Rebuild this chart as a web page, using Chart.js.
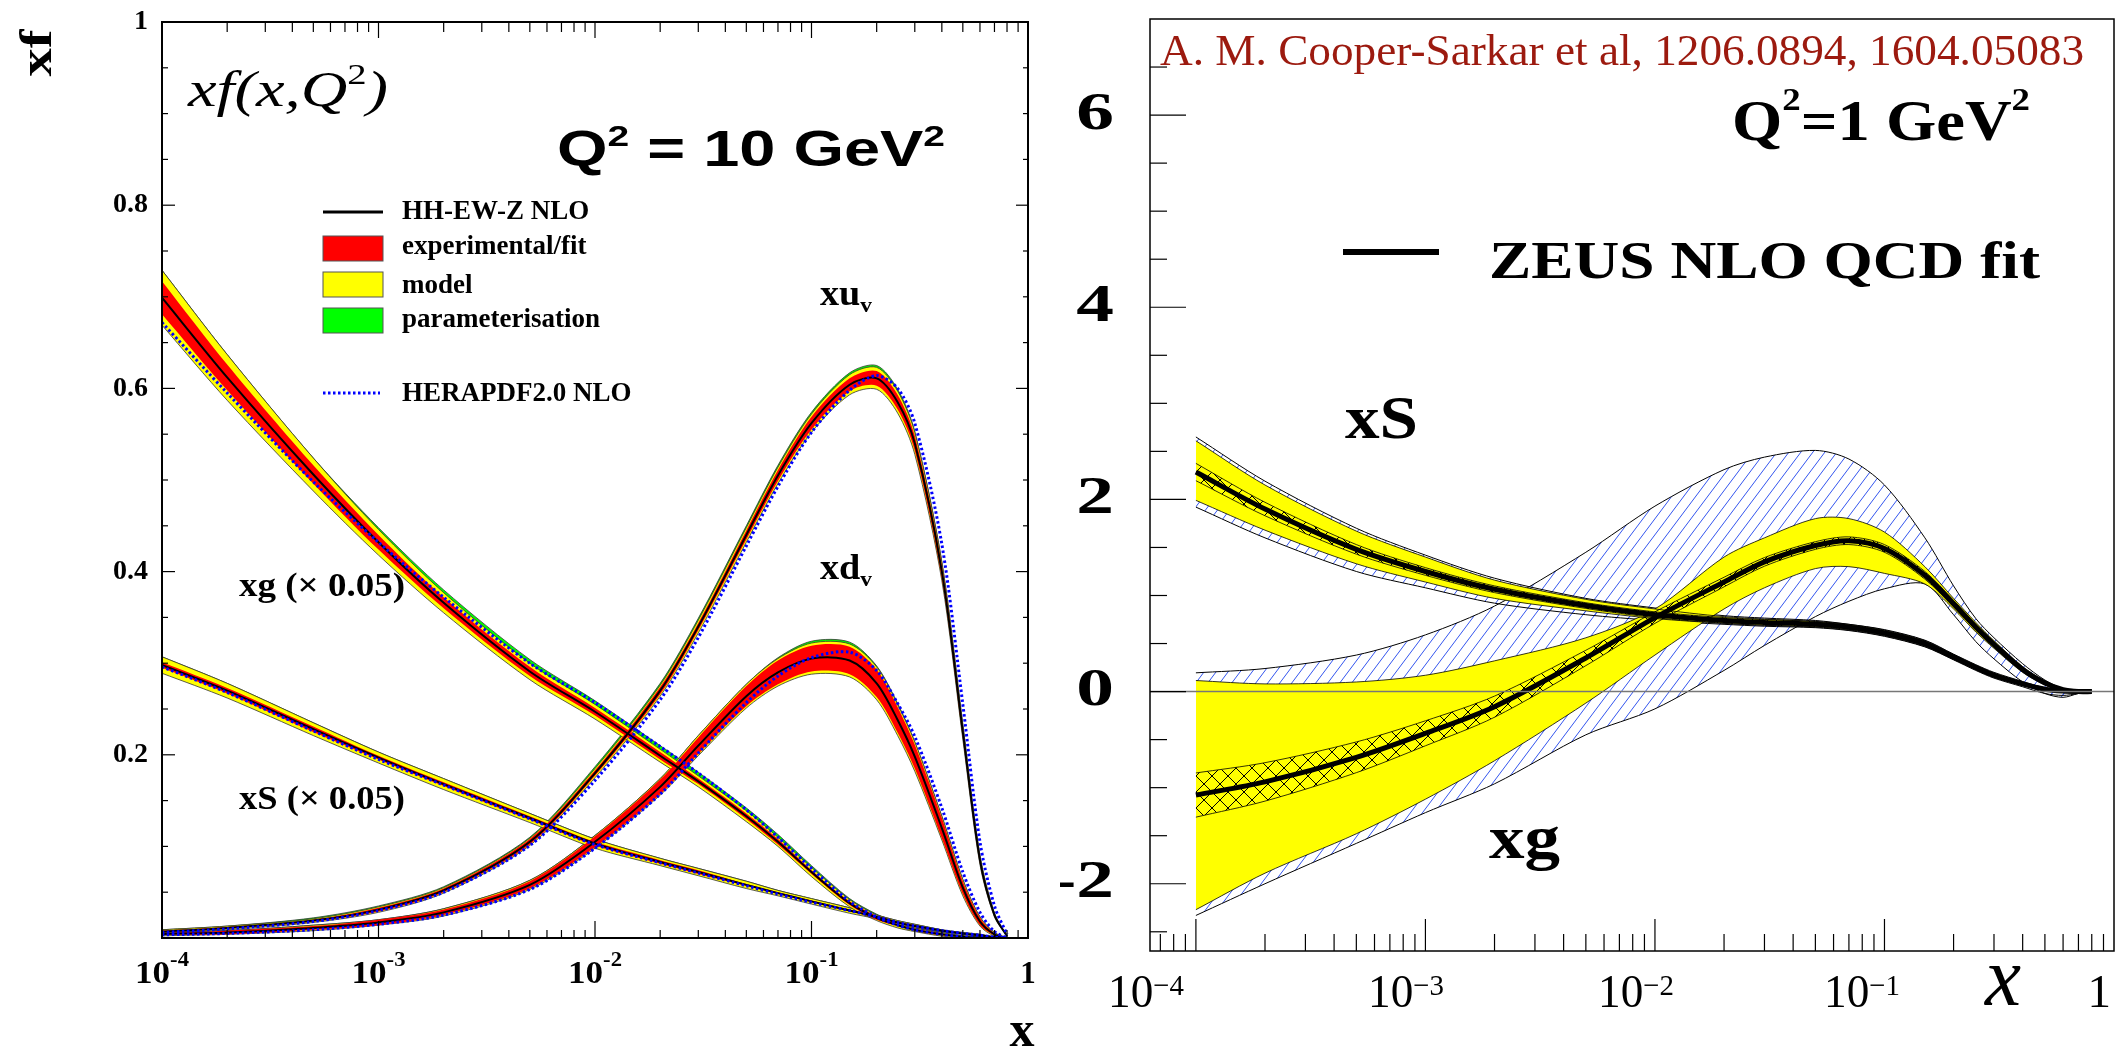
<!DOCTYPE html>
<html>
<head>
<meta charset="utf-8">
<script src="https://cdn.jsdelivr.net/npm/chart.js@4.4.1/dist/chart.umd.min.js"></script>
<style>
  body { margin: 0; background: #fff; width: 2116px; height: 1051px; overflow: hidden; position: relative; }
  canvas { position: absolute; top: 0; }
  #left { left: 0; }
  #right { left: 1060px; }
</style>
</head>
<body>
<canvas id="left" width="1060" height="1051"></canvas>
<canvas id="right" width="1056" height="1051"></canvas>
<script>
// x values shared by both panels
const xGrid = [1e-4, 2e-4, 5e-4, 1e-3, 2e-3, 5e-3, 0.01, 0.02, 0.03, 0.05, 0.07, 0.1, 0.15, 0.2, 0.25, 0.3, 0.4, 0.5, 0.6, 0.7, 0.8];

// ---- left panel: Q2 = 10 GeV2, HH-EW-Z NLO ----
const xuv    = [0.007, 0.011, 0.019, 0.031, 0.052, 0.105, 0.18, 0.27, 0.34, 0.44, 0.505, 0.562, 0.604, 0.611, 0.585, 0.54, 0.40, 0.225, 0.085, 0.025, 0.002];
const xuvExp = [0.001, 0.001, 0.001, 0.002, 0.002, 0.003, 0.003, 0.004, 0.004, 0.005, 0.006, 0.007, 0.007, 0.008, 0.008, 0.008, 0.007, 0.005, 0.003, 0.001, 0];
const xuvMod = [0.002, 0.002, 0.002, 0.003, 0.003, 0.004, 0.005, 0.006, 0.007, 0.008, 0.009, 0.010, 0.011, 0.012, 0.012, 0.012, 0.010, 0.008, 0.005, 0.002, 0];
const xuvPar = [0.002, 0.002, 0.003, 0.004, 0.004, 0.005, 0.007, 0.008, 0.009, 0.010, 0.011, 0.012, 0.013, 0.014, 0.014, 0.013, 0.011, 0.008, 0.005, 0.002, 0];
const xuvHera = [0.006, 0.010, 0.018, 0.030, 0.050, 0.101, 0.172, 0.26, 0.328, 0.428, 0.493, 0.552, 0.598, 0.614, 0.600, 0.562, 0.43, 0.255, 0.105, 0.035, 0.004];

const xdv    = [0.0044, 0.006, 0.011, 0.017, 0.028, 0.058, 0.105, 0.165, 0.210, 0.264, 0.290, 0.305, 0.303, 0.278, 0.238, 0.198, 0.12, 0.055, 0.018, 0.004, 0];
const xdvExp = [0.001, 0.002, 0.002, 0.003, 0.003, 0.004, 0.006, 0.008, 0.009, 0.011, 0.013, 0.014, 0.015, 0.015, 0.014, 0.013, 0.011, 0.007, 0.004, 0.001, 0];
const xdvMod = [0.002, 0.002, 0.003, 0.003, 0.004, 0.005, 0.007, 0.009, 0.011, 0.013, 0.015, 0.017, 0.018, 0.018, 0.017, 0.016, 0.013, 0.009, 0.005, 0.002, 0];
const xdvPar = [0.002, 0.002, 0.003, 0.003, 0.004, 0.005, 0.007, 0.009, 0.011, 0.013, 0.016, 0.019, 0.020, 0.019, 0.018, 0.016, 0.013, 0.009, 0.005, 0.002, 0];
const xdvHera = [0.0035, 0.005, 0.009, 0.015, 0.025, 0.053, 0.098, 0.157, 0.202, 0.257, 0.286, 0.306, 0.312, 0.292, 0.256, 0.220, 0.142, 0.072, 0.028, 0.007, 0];

// gluon and sea, scaled by 0.05
const xg    = [0.699, 0.612, 0.506, 0.432, 0.366, 0.291, 0.247, 0.199, 0.171, 0.133, 0.105, 0.072, 0.038, 0.022, 0.014, 0.009, 0.004, 0.0015, 0.0005, 0, 0];
const xgExp = [0.018, 0.014, 0.010, 0.008, 0.006, 0.005, 0.004, 0.004, 0.003, 0.003, 0.003, 0.002, 0.002, 0.002, 0.001, 0.001, 0.001, 0, 0, 0, 0];
const xgMod = [0.030, 0.025, 0.018, 0.014, 0.011, 0.009, 0.008, 0.007, 0.006, 0.006, 0.005, 0.005, 0.004, 0.003, 0.003, 0.002, 0.002, 0.001, 0.001, 0, 0];
const xgPar = [0.030, 0.025, 0.018, 0.016, 0.014, 0.013, 0.012, 0.011, 0.010, 0.009, 0.008, 0.007, 0.005, 0.004, 0.003, 0.002, 0.002, 0.001, 0.001, 0, 0];
const xgHera = [0.672, 0.595, 0.498, 0.432, 0.372, 0.300, 0.257, 0.209, 0.180, 0.140, 0.110, 0.076, 0.040, 0.023, 0.014, 0.009, 0.004, 0.001, 0, 0, 0];

const xs    = [0.298, 0.270, 0.228, 0.197, 0.168, 0.131, 0.103, 0.083, 0.072, 0.058, 0.049, 0.040, 0.030, 0.023, 0.017, 0.013, 0.008, 0.005, 0.003, 0.001, 0];
const xsExp = [0.003, 0.003, 0.003, 0.002, 0.002, 0.002, 0.002, 0.002, 0.002, 0.001, 0.001, 0.001, 0.001, 0.001, 0.001, 0.001, 0, 0, 0, 0, 0];
const xsMod = [0.009, 0.008, 0.007, 0.006, 0.006, 0.005, 0.005, 0.004, 0.004, 0.004, 0.003, 0.003, 0.003, 0.002, 0.002, 0.002, 0.001, 0.001, 0.001, 0, 0];
const xsHera = [0.296, 0.268, 0.226, 0.195, 0.167, 0.130, 0.102, 0.082, 0.071, 0.057, 0.048, 0.039, 0.030, 0.023, 0.017, 0.013, 0.008, 0.005, 0.003, 0.001, 0];

const leftYTicks = [0.2, 0.4, 0.6, 0.8, 1];
const leftYLabels = ['0.2', '0.4', '0.6', '0.8', '1'];
const leftXTicks = [1e-4, 1e-3, 1e-2, 1e-1, 1];
const leftXExp = ['-4', '-3', '-2', '-1', ''];
const legendLabels = ['HH-EW-Z NLO', 'experimental/fit', 'model', 'parameterisation', 'HERAPDF2.0 NLO'];

// ---- right panel: Q2 = 1 GeV2, ZEUS NLO QCD fit ----
const sZeus    = [2.285, 1.90, 1.48, 1.25, 1.065, 0.895, 0.80, 0.74, 0.72, 0.70, 0.67, 0.61, 0.50, 0.36, 0.25, 0.17, 0.08, 0.025, 0.005, 0, 0];
const sExp     = [0.09, 0.07, 0.05, 0.04, 0.035, 0.03, 0.03, 0.03, 0.03, 0.03, 0.03, 0.03, 0.03, 0.025, 0.02, 0.02, 0.015, 0.01, 0.005, 0, 0];
const sModHi   = [2.61, 2.15, 1.67, 1.40, 1.16, 0.96, 0.86, 0.78, 0.755, 0.73, 0.695, 0.635, 0.525, 0.38, 0.27, 0.19, 0.095, 0.035, 0.01, 0, 0];
const sModLo   = [1.99, 1.68, 1.33, 1.14, 0.97, 0.84, 0.76, 0.71, 0.69, 0.675, 0.645, 0.585, 0.475, 0.34, 0.23, 0.15, 0.065, 0.015, 0, 0, 0];
const sHatchHi = [2.65, 2.19, 1.70, 1.42, 1.18, 0.97, 0.87, 0.79, 0.765, 0.74, 0.70, 0.645, 0.535, 0.39, 0.28, 0.20, 0.105, 0.04, 0.015, 0.005, 0];
const sHatchLo = [1.92, 1.60, 1.25, 1.08, 0.92, 0.80, 0.74, 0.70, 0.68, 0.665, 0.635, 0.575, 0.465, 0.33, 0.22, 0.14, 0.05, -0.02, -0.04, -0.02, 0];

const gZeus    = [-1.077, -0.94, -0.684, -0.434, -0.157, 0.35, 0.77, 1.14, 1.35, 1.52, 1.57, 1.49, 1.21, 0.915, 0.67, 0.49, 0.23, 0.09, 0.02, 0, 0];
const gExp     = [0.23, 0.20, 0.16, 0.13, 0.11, 0.08, 0.06, 0.05, 0.045, 0.04, 0.04, 0.04, 0.04, 0.035, 0.03, 0.03, 0.02, 0.01, 0.005, 0, 0];
const gModHi   = [0.115, 0.08, 0.10, 0.17, 0.32, 0.56, 0.86, 1.40, 1.60, 1.80, 1.80, 1.66, 1.30, 0.97, 0.72, 0.53, 0.26, 0.11, 0.03, 0.005, 0];
const gModLo   = [-2.27, -1.89, -1.48, -1.12, -0.72, -0.12, 0.38, 0.86, 1.08, 1.28, 1.30, 1.23, 1.12, 0.86, 0.62, 0.45, 0.20, 0.07, 0.01, 0, 0];
const gHatchHi = [0.195, 0.24, 0.38, 0.59, 0.89, 1.45, 1.93, 2.31, 2.44, 2.51, 2.42, 2.15, 1.60, 1.10, 0.76, 0.56, 0.29, 0.12, 0.03, 0, 0];
const gHatchLo = [-2.33, -2.0, -1.58, -1.26, -0.96, -0.45, -0.18, 0.22, 0.48, 0.78, 0.94, 1.07, 1.12, 0.80, 0.52, 0.34, 0.10, -0.02, -0.06, -0.02, 0];

const rightYTicks = [6, 4, 2, 0, -2];
const rightXExp = ['\u22124', '\u22123', '\u22122', '\u22121', ''];

// ---------------------------------------------------------------
const SERIF = 'Liberation Serif', SANS = 'Liberation Sans';
const pts = ys => xGrid.map((x, i) => ({ x, y: ys[i] }));
const shift = (ys, d, s) => ys.map((y, i) => y + s * d[i]);

// text made of parts [text, font, dy]; optional squeeze to a width or fixed stretch
function rich(ctx, parts, x, y, o = {}) {
  ctx.save();
  let w = 0;
  parts.forEach(p => { ctx.font = p[1]; w += ctx.measureText(p[0]).width; });
  const sx = o.width ? o.width / w : (o.sx || 1);
  ctx.translate(x, y);
  if (o.rotate) ctx.rotate(o.rotate);
  let x0 = 0;
  if (o.align === 'center') x0 = -w * sx / 2;
  else if (o.align === 'right') x0 = -w * sx;
  ctx.translate(x0, 0);
  ctx.scale(sx, 1);
  ctx.fillStyle = o.color || '#000';
  ctx.textBaseline = o.baseline || 'alphabetic';
  ctx.textAlign = 'left';
  let cx = 0;
  parts.forEach(p => { ctx.font = p[1]; ctx.fillText(p[0], cx, p[2] || 0); cx += ctx.measureText(p[0]).width; });
  ctx.restore();
}

function logTicks(min, max) {
  const out = [];
  for (let n = -6; n <= 0; n++) for (let k = 1; k <= 9; k++) {
    const v = k * Math.pow(10, n);
    if (v >= min * 0.999 && v <= max * 1.001) out.push({ v, major: k === 1 });
  }
  return out;
}

function line(ctx, x1, y1, x2, y2) { ctx.beginPath(); ctx.moveTo(x1, y1); ctx.lineTo(x2, y2); ctx.stroke(); }

// ---------------- left panel ----------------
const leftSets = [];
function addLeft(c, exp, mod, par, hera) {
  const b = leftSets.length;
  leftSets.push({ data: pts(hera), borderColor: '#0000ff', borderWidth: 3, borderDash: [2.5, 2.5], order: 0 });
  leftSets.push({ data: pts(c), borderColor: '#000', borderWidth: 2, order: 1 });
  leftSets.push({ data: pts(shift(c, exp, 1)), borderWidth: 0, backgroundColor: '#ff0000', fill: b + 3, order: 2 });
  leftSets.push({ data: pts(shift(c, exp, -1)), borderWidth: 0, order: 3 });
  leftSets.push({ data: pts(shift(c, mod, 1)), borderColor: '#333', borderWidth: 0.8, backgroundColor: '#ffff00', fill: b + 5, order: 4 });
  leftSets.push({ data: pts(shift(c, mod, -1)), borderColor: '#333', borderWidth: 0.8, order: 3.9 });
  leftSets.push({ data: pts(shift(c, par, 1)), borderColor: '#333', borderWidth: 0.8, backgroundColor: '#00ff00', fill: b + 1, order: 5 });
}
addLeft(xg, xgExp, xgMod, xgPar, xgHera);
addLeft(xs, xsExp, xsMod, xsMod, xsHera);
addLeft(xdv, xdvExp, xdvMod, xdvPar, xdvHera);
addLeft(xuv, xuvExp, xuvMod, xuvPar, xuvHera);

const leftDecor = {
  id: 'leftDecor',
  afterDraw(chart) {
    const { ctx, chartArea: a, scales: { x, y } } = chart;
    ctx.save();
    ctx.strokeStyle = '#000';
    ctx.lineWidth = 1.2;
    // ticks
    logTicks(1e-4, 1).forEach(t => {
      const px = x.getPixelForValue(t.v);
      line(ctx, px, a.bottom, px, a.bottom - (t.major ? 17 : 8));
      line(ctx, px, a.top, px, a.top + (t.major ? 16 : 10));
    });
    for (let i = 1; i < 20; i++) {
      const v = i * 0.05, py = y.getPixelForValue(v), major = i % 4 === 0;
      line(ctx, a.left, py, a.left + (major ? 13 : 6), py);
      line(ctx, a.right, py, a.right - (major ? 12 : 5), py);
    }
    ctx.lineWidth = 2;
    ctx.strokeRect(a.left, a.top, a.right - a.left, a.bottom - a.top);

    // tick labels
    leftYTicks.forEach((v, i) => rich(ctx, [[leftYLabels[i], 'bold 28px ' + SERIF]], a.left - 14, y.getPixelForValue(v), { align: 'right', baseline: 'middle' }));
    leftXTicks.forEach((v, i) => {
      const px = x.getPixelForValue(v);
      if (leftXExp[i]) rich(ctx, [['10', 'bold 31px ' + SERIF], [leftXExp[i], 'bold 20px ' + SERIF, -17]], px, 983, { align: 'center', width: 54 });
      else rich(ctx, [['1', 'bold 31px ' + SERIF]], px, 983, { align: 'center' });
    });
    rich(ctx, [['x', 'bold 50px ' + SERIF]], 1022, 1046, { align: 'center' });
    rich(ctx, [['xf', 'bold 46px ' + SERIF]], 39, 53, { align: 'center', baseline: 'middle', rotate: -Math.PI / 2, width: 47 });

    // titles
    rich(ctx, [['xf(x,Q', 'italic 50px ' + SERIF], ['2', '30px ' + SERIF, -22], [')', 'italic 50px ' + SERIF]], 188, 106, { width: 200 });
    rich(ctx, [['Q', 'bold 50px ' + SANS], ['2', 'bold 30px ' + SANS, -20], [' = 10 GeV', 'bold 50px ' + SANS], ['2', 'bold 30px ' + SANS, -20]], 557, 166, { width: 388 });
    rich(ctx, [['xu', 'bold 36px ' + SERIF], ['v', 'bold 22px ' + SERIF, 7]], 820, 305, { width: 52 });
    rich(ctx, [['xd', 'bold 36px ' + SERIF], ['v', 'bold 22px ' + SERIF, 7]], 820, 579, { width: 52 });
    rich(ctx, [['xg (\u00d7 0.05)', 'bold 34px ' + SERIF]], 239, 596, { width: 166 });
    rich(ctx, [['xS (\u00d7 0.05)', 'bold 34px ' + SERIF]], 239, 809, { width: 166 });

    // legend
    ctx.lineWidth = 3;
    line(ctx, 323, 212, 383, 212);
    [['#ff0000', 236], ['#ffff00', 272], ['#00ff00', 308]].forEach(([c, top]) => {
      ctx.fillStyle = c; ctx.fillRect(323, top, 60, 25);
      ctx.lineWidth = 1; ctx.strokeStyle = '#555'; ctx.strokeRect(323, top, 60, 25);
    });
    ctx.strokeStyle = '#0000ff'; ctx.lineWidth = 3; ctx.setLineDash([2.5, 2.5]);
    line(ctx, 323, 393, 380, 393);
    ctx.setLineDash([]);
    [219, 254, 293, 327, 401].forEach((by, i) => rich(ctx, [[legendLabels[i], 'bold 27px ' + SERIF]], 402, by));
    ctx.restore();
  }
};

new Chart(document.getElementById('left'), {
  type: 'line',
  data: { datasets: leftSets },
  options: {
    responsive: false, animation: false, events: [],
    layout: { padding: { top: 22, right: 32, left: 0, bottom: 0 } },
    elements: { point: { radius: 0 }, line: { tension: 0.3 } },
    plugins: { legend: { display: false }, tooltip: { enabled: false }, filler: { propagate: false } },
    scales: {
      x: { type: 'logarithmic', min: 1e-4, max: 1, ticks: { display: false }, grid: { display: false }, border: { display: false },
           afterFit: s => { s.height = 113; } },
      y: { min: 0, max: 1, ticks: { display: false }, grid: { display: false }, border: { display: false },
           afterFit: s => { s.width = 162; } }
    }
  },
  plugins: [leftDecor]
});

// ---------------- right panel ----------------
const OFF = 1060;
const rctx = document.getElementById('right').getContext('2d');
function pattern(color, w, h, cross) {
  const c = document.createElement('canvas');
  c.width = w; c.height = h;
  const g = c.getContext('2d');
  g.strokeStyle = color; g.lineWidth = 1;
  g.beginPath();
  for (const dx of [-w, 0, w]) {
    g.moveTo(dx, h); g.lineTo(dx + w, 0);
    if (cross) { g.moveTo(dx, 0); g.lineTo(dx + w, h); }
  }
  g.stroke();
  return rctx.createPattern(c, 'repeat');
}
const blueHatch = pattern('#3355ee', 12, 16, false);
const blackCross = pattern('#000', 16, 16, true);

const rightSets = [];
function addRight(c, exp, modLo, modHi, hatchLo, hatchHi) {
  const b = rightSets.length;
  rightSets.push({ data: pts(c), borderColor: '#000', borderWidth: 5, order: 1 });
  rightSets.push({ data: pts(shift(c, exp, 1)), borderColor: '#000', borderWidth: 0.8, backgroundColor: blackCross, fill: b + 2, order: 6 });
  rightSets.push({ data: pts(shift(c, exp, -1)), borderColor: '#000', borderWidth: 0.8, order: 5.9 });
  rightSets.push({ data: pts(modHi), borderColor: '#000', borderWidth: 0.8, backgroundColor: '#ffff00', fill: b + 4, order: 8 });
  rightSets.push({ data: pts(modLo), borderColor: '#000', borderWidth: 0.8, order: 7.9 });
  rightSets.push({ data: pts(hatchHi), borderColor: '#000', borderWidth: 1, backgroundColor: blueHatch, fill: b + 6, order: 10 });
  rightSets.push({ data: pts(hatchLo), borderColor: '#000', borderWidth: 1, order: 9.9 });
}
addRight(sZeus, sExp, sModLo, sModHi, sHatchLo, sHatchHi);
addRight(gZeus, gExp, gModLo, gModHi, gHatchLo, gHatchHi);

const rightDecor = {
  id: 'rightDecor',
  afterDatasetsDraw(chart) {
    const { ctx, chartArea: a, scales: { y } } = chart;
    ctx.save();
    ctx.strokeStyle = '#777'; ctx.lineWidth = 1.5;
    const py = y.getPixelForValue(0);
    line(ctx, a.left, py, a.right, py);
    ctx.restore();
  },
  afterDraw(chart) {
    const { ctx, chartArea: a, scales: { x, y } } = chart;
    ctx.save();
    ctx.strokeStyle = '#000'; ctx.lineWidth = 1.2;
    logTicks(x.min, x.max).forEach(t => {
      const px = x.getPixelForValue(t.v);
      if (px > a.right - 1) return;
      line(ctx, px, a.bottom, px, a.bottom - (t.major ? 32 : 17));
    });
    for (let v = -2.5; v < 7; v += 0.5) {
      const p = y.getPixelForValue(v), major = v % 2 === 0;
      line(ctx, a.left, p, a.left + (major ? 36 : 17), p);
    }
    ctx.lineWidth = 1.5;
    ctx.strokeRect(a.left, a.top, a.right - a.left, a.bottom - a.top);

    rightYTicks.forEach(v => rich(ctx, [[String(v), 'bold 52px ' + SERIF]], 1114 - OFF, y.getPixelForValue(v), { align: 'right', baseline: 'middle', sx: 1.45 }));
    // axis labels sit on an even 1e-4..1 grid across the frame (as in the original figure)
    const nudge = [-4, 15, 4, -11];
    rightXExp.forEach((e, i) => {
      const px = a.left + i * (a.right - a.left) / 4;
      if (e) rich(ctx, [['10', '47px ' + SERIF], [e, '30px ' + SERIF, -12]], px + nudge[i], 1007, { align: 'center', width: 76 });
      else rich(ctx, [['1', '47px ' + SERIF]], a.right - 3, 1007, { align: 'right' });
    });
    rich(ctx, [['x', 'italic 84px ' + SERIF]], 1985 - OFF, 1005, { width: 36 });

    rich(ctx, [['A. M. Cooper-Sarkar et al, 1206.0894, 1604.05083', '45px ' + SERIF]], 1160 - OFF, 65, { width: 924, color: '#9c1a0f' });
    rich(ctx, [['Q', 'bold 56px ' + SERIF], ['2', 'bold 32px ' + SERIF, -30], ['=1 GeV', 'bold 56px ' + SERIF], ['2', 'bold 32px ' + SERIF, -30]], 1732 - OFF, 140, { width: 298 });
    ctx.lineWidth = 6; ctx.strokeStyle = '#000';
    line(ctx, 1343 - OFF, 252, 1439 - OFF, 252);
    rich(ctx, [['ZEUS NLO QCD fit', 'bold 52px ' + SERIF]], 1489 - OFF, 278, { width: 551 });
    rich(ctx, [['xS', 'bold 62px ' + SERIF]], 1345 - OFF, 438, { width: 73 });
    rich(ctx, [['xg', 'bold 62px ' + SERIF]], 1489 - OFF, 858, { width: 71 });
    ctx.restore();
  }
};

new Chart(rctx, {
  type: 'line',
  data: { datasets: rightSets },
  options: {
    responsive: false, animation: false, events: [],
    layout: { padding: { top: 19, right: 2, left: 0, bottom: 0 } },
    elements: { point: { radius: 0 }, line: { tension: 0.3 } },
    plugins: { legend: { display: false }, tooltip: { enabled: false }, filler: { propagate: false } },
    scales: {
      x: { type: 'logarithmic', min: Math.pow(10, -4.2), max: 1, ticks: { display: false }, grid: { display: false }, border: { display: false },
           afterFit: s => { s.height = 100; } },
      y: { min: -2.7, max: 7, ticks: { display: false }, grid: { display: false }, border: { display: false },
           afterFit: s => { s.width = 90; } }
    }
  },
  plugins: [rightDecor]
});
</script>
</body>
</html>
